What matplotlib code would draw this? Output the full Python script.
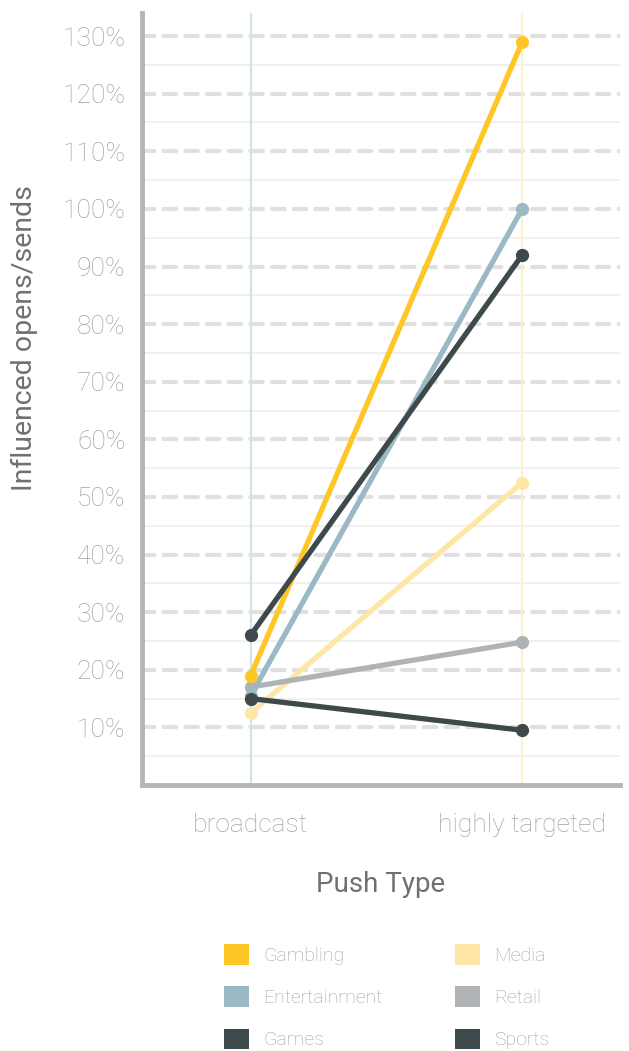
import matplotlib.pyplot as plt
import numpy as np
from matplotlib.patches import Patch

plt.rcParams['font.family'] = ['Roboto', 'DejaVu Sans']

push_types = ["broadcast", "highly targeted"]
series = ["Gambling", "Entertainment", "Games", "Media", "Retail", "Sports"]
values = {
    "Gambling": [19.0, 129.0],
    "Entertainment": [15.5, 100.0],
    "Games": [26.0, 92.0],
    "Media": [12.5, 52.5],
    "Retail": [17.0, 24.8],
    "Sports": [15.0, 9.5],
}
colors = {
    "Gambling": "#FFC726",
    "Entertainment": "#9BB8C5",
    "Games": "#3D494A",
    "Media": "#FDE6A6",
    "Retail": "#B0B3B5",
    "Sports": "#3D494A",
}
# draw order: light ones underneath
draw_order = ["Media", "Retail", "Entertainment", "Gambling", "Games", "Sports"]

fig = plt.figure(figsize=(6.29, 10.51), dpi=100)
ax = fig.add_axes([0.2258, 0.2531, 0.7599, 0.7345])

x = np.arange(len(push_types))
ax.set_xlim(-0.4, 1.36)
ax.set_ylim(0, 134)

# grid lines
for v in np.arange(5, 135, 10):
    ax.axhline(v, color="#F0F0F0", lw=1.5, zorder=0)
for v in np.arange(10, 135, 10):
    ax.axhline(v, color="#E0E0E0", lw=3, ls=(0, (3, 2.2)), dash_capstyle="round", zorder=0)

ax.axvline(0, color="#D2E2EA", lw=1.5, zorder=1)
ax.axvline(1, color="#FDF1CC", lw=1.5, zorder=1)

for name in draw_order:
    ax.plot(x, values[name], color=colors[name], lw=3.8, marker="o", ms=8.5,
            solid_capstyle="round", zorder=3)

ax.set_yticks(np.arange(10, 135, 10))
ax.set_yticklabels([f"{v}%" for v in range(10, 135, 10)])
ax.set_xticks(x)
ax.set_xticklabels(push_types)
ax.tick_params(length=0, labelsize=19, labelcolor="#A4A4A4")
ax.tick_params(axis="y", pad=12)
ax.tick_params(axis="x", pad=20)
for lab in ax.get_xticklabels() + ax.get_yticklabels():
    lab.set_fontweight("light")

ax.set_ylabel("Influenced opens/sends", fontsize=20.5, color="#707070")
ax.yaxis.set_label_coords(-0.2176, 0.579)
ax.set_xlabel("Push Type", fontsize=20, color="#707070")
ax.xaxis.set_label_coords(0.5, -0.112)

for s in ["top", "right"]:
    ax.spines[s].set_visible(False)
for s in ["left", "bottom"]:
    ax.spines[s].set_color("#B5B5B5")
    ax.spines[s].set_linewidth(3.5)

handles = [Patch(facecolor=colors[n], edgecolor="none") for n in series]
leg = fig.legend(handles, series, ncol=2, loc="lower left",
                 bbox_to_anchor=(0.329, -0.015), frameon=False,
                 handlelength=1.24, handleheight=1.24, handletextpad=0.75,
                 columnspacing=3.75, labelspacing=1.1,
                 prop={"size": 14, "weight": "light"})
for t in leg.get_texts():
    t.set_color("#A2A2A2")

fig.savefig("out.png", dpi=100)
